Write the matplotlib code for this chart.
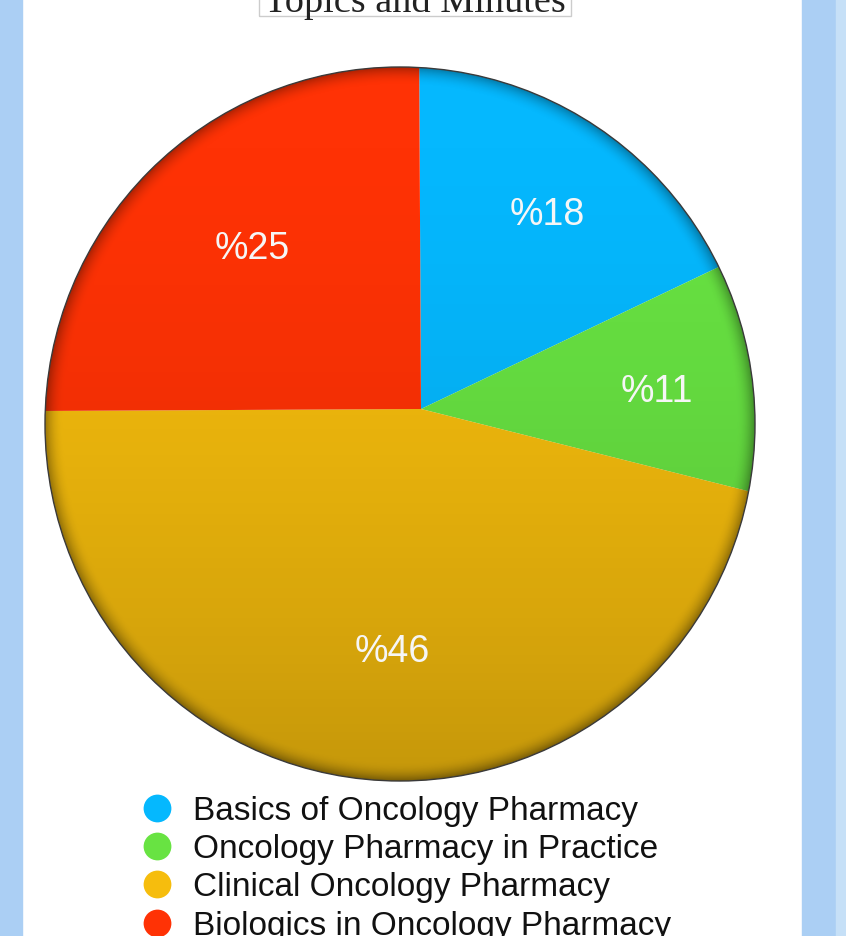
import numpy as np
import matplotlib
matplotlib.use("Agg")
import matplotlib.pyplot as plt
from matplotlib.patches import Ellipse, Rectangle

# ---- data ----
title = "Topics and Minutes"
categories = ["Basics of Oncology Pharmacy", "Oncology Pharmacy in Practice",
              "Clinical Oncology Pharmacy", "Biologics in Oncology Pharmacy"]
values = [18, 11, 46, 25]
colors = ["#05b8fe", "#68e342", "#f6bd0d", "#ff3205"]

W, H = 846, 937
fig = plt.figure(figsize=(W / 100, H / 100), dpi=100)
fig.patch.set_facecolor("white")
ax = fig.add_axes([0, 0, 1, 1])

def Y(y):  # image y -> data y
    return H - y

# page background strips
ax.add_patch(Rectangle((0, 0), 22, H, color="#abcff4", zorder=0))
ax.add_patch(Rectangle((802, 0), 34, H, color="#abcff4", zorder=0))
ax.add_patch(Rectangle((836, 0), 10, H, color="#c6e0f7", zorder=0))

# pie
vertex = (421, Y(410))
ecx, ecy, ew, eh = 400, Y(425), 710, 714
wedges, texts, autotexts = ax.pie(
    values, colors=colors, startangle=90.3, counterclock=False,
    center=vertex, radius=420, autopct=lambda p: f"%{p:.0f}",
    pctdistance=0.565, wedgeprops=dict(linewidth=0),
    textprops=dict(color="#f6f6f6", fontsize=27, family="Liberation Sans"))
clip = Ellipse((ecx, ecy), ew, eh, transform=ax.transData)
for w in wedges:
    w.set_clip_on(True)
    w.set_clip_path(clip)

# shading overlay (darker towards bottom and rim)
gx = np.linspace(ecx - ew / 2, ecx + ew / 2, 400)
gy = np.linspace(ecy - eh / 2, ecy + eh / 2, 400)
GX, GY = np.meshgrid(gx, gy)
rr = np.sqrt(((GX - ecx) / (ew / 2)) ** 2 + ((GY - ecy) / (eh / 2)) ** 2)
down = np.clip((ecy + eh / 2 - GY) / eh, 0, 1)
alpha = 0.2 * down ** 1.8 + 0.3 * np.clip((rr - 0.95) / 0.05, 0, 1) ** 2
img = np.zeros((400, 400, 4))
img[..., 3] = np.clip(alpha, 0, 0.6)
im = ax.imshow(img, extent=(gx[0], gx[-1], gy[0], gy[-1]), origin="lower",
               zorder=2, interpolation="bilinear")
clip2 = Ellipse((ecx, ecy), ew, eh, transform=ax.transData)
im.set_clip_path(clip2)
ax.add_patch(Ellipse((ecx, ecy), ew, eh, fill=False, edgecolor="#3a3a3a",
                     linewidth=1.0, zorder=3))
for t in autotexts:
    t.set_zorder(4)
    x, y = t.get_position()
    t.set_position((x, y - 6))

# title with box
ax.add_patch(Rectangle((259, Y(17)), 312, 40, fill=False, edgecolor="#cccccc",
                       linewidth=1.0, zorder=5))
ax.text(415, Y(12), title, ha="center", va="baseline", fontsize=27.5,
        family="Liberation Serif", color="#222222", zorder=6)

# legend
for i, (lab, c) in enumerate(zip(categories, colors)):
    base = 820 + 38.2 * i
    ax.scatter([157], [Y(base - 11)], s=(20) ** 2, color=c, zorder=5,
               linewidths=0)
    ax.text(193, Y(base), lab, ha="left", va="baseline", fontsize=24,
            family="Liberation Sans", color="#111111", zorder=5)

ax.set_xlim(0, W)
ax.set_ylim(0, H)
ax.set_aspect("auto")
ax.axis("off")
fig.savefig("out.png", dpi=100, facecolor="white")
